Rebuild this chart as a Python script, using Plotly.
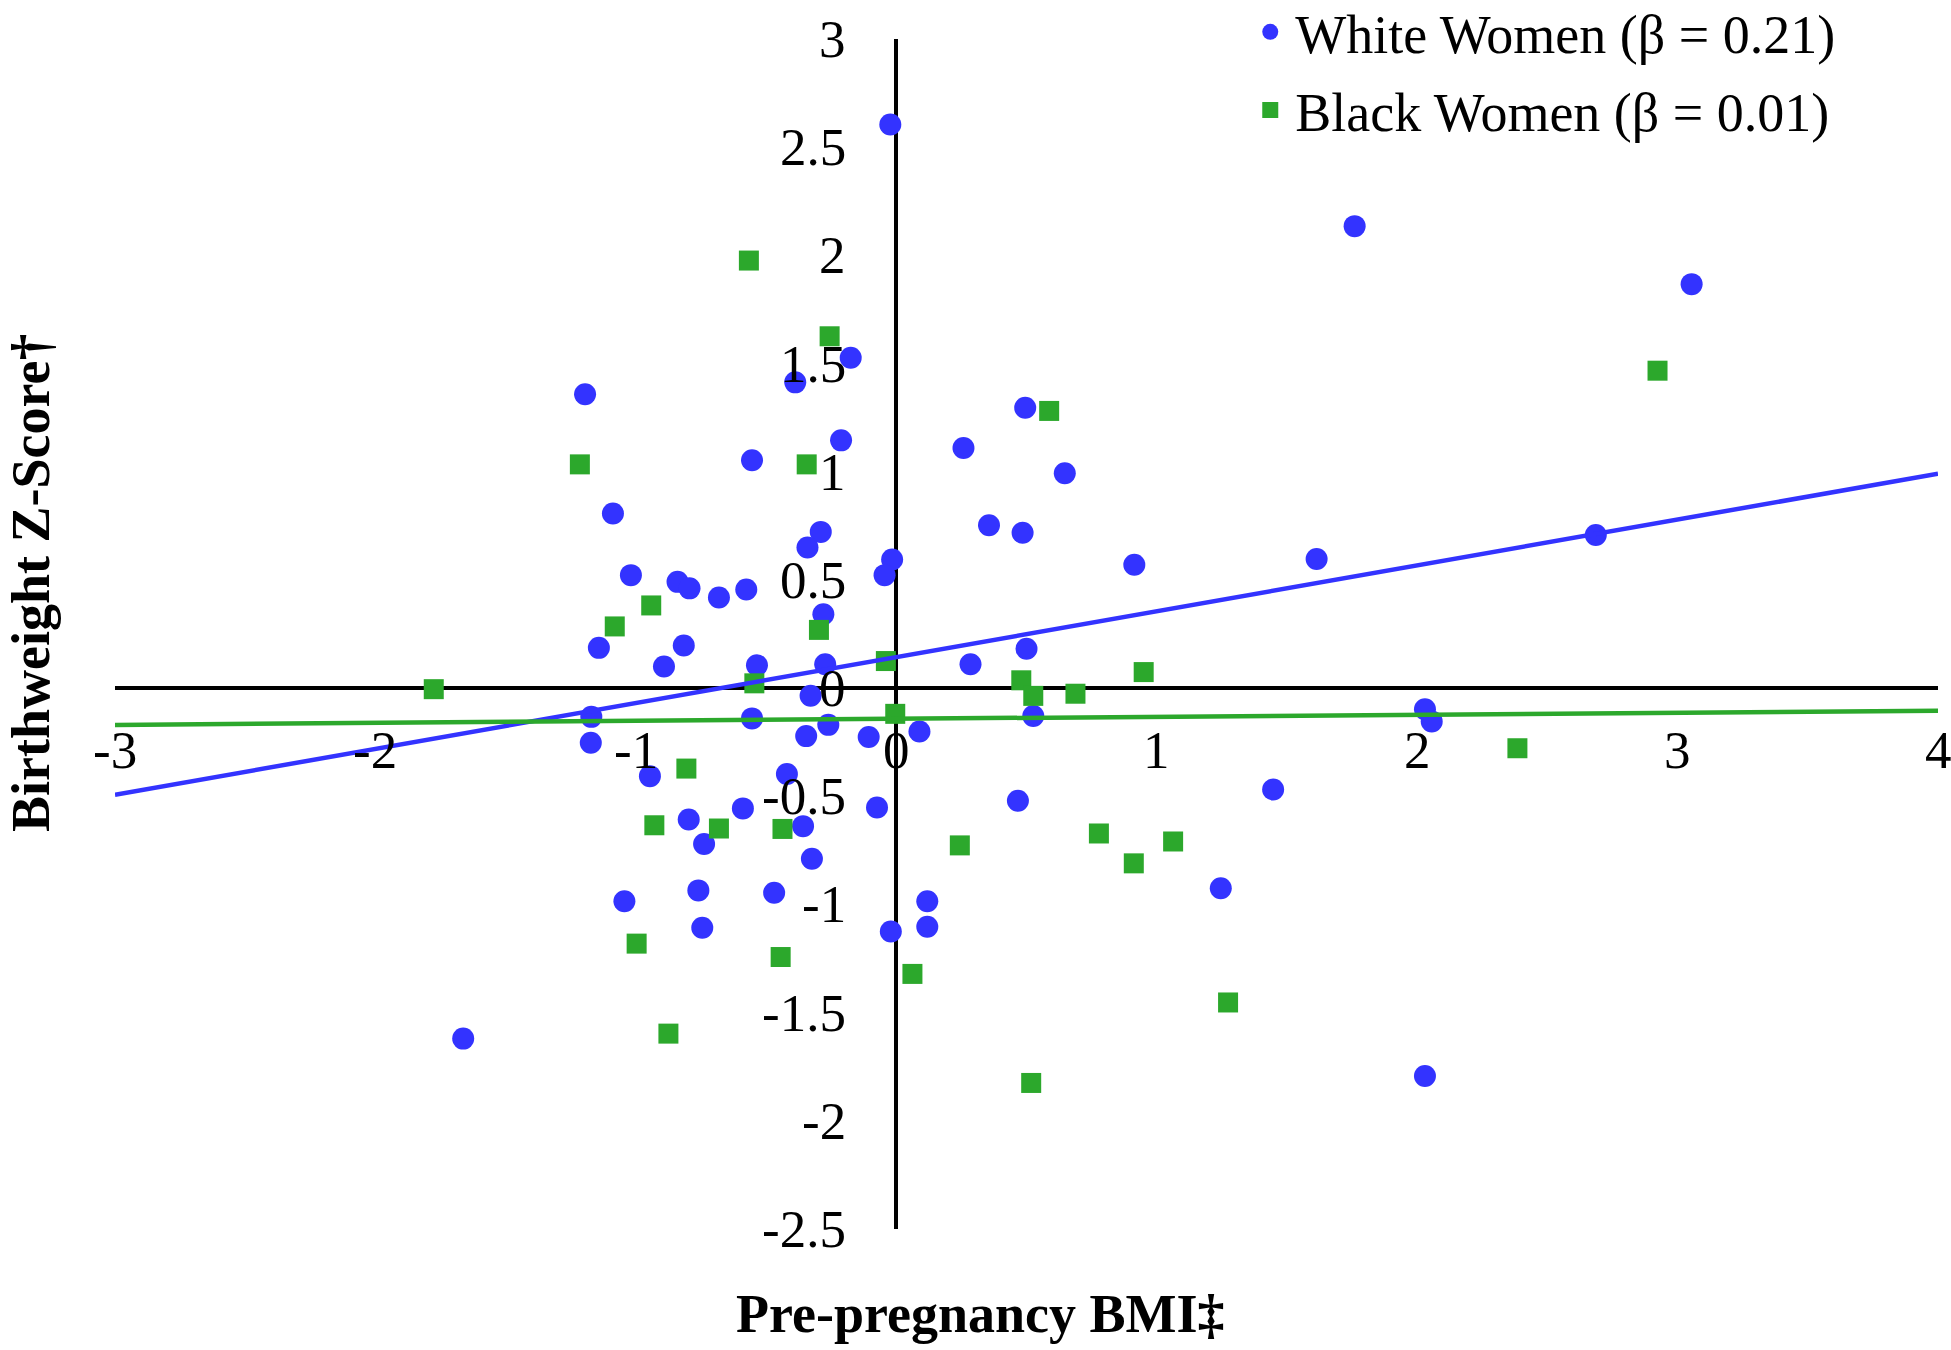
import plotly.graph_objects as go

# ---- data ----
white_x = [-0.023, -1.195, -0.388, -0.175, -0.212, -0.554, 0.258, 0.356, -1.088, -0.290,
           -0.341, -1.019, -0.840, -0.794, -0.681, -0.576, -0.016, -0.045, -0.280, -1.142,
           -0.816, -0.892, -0.535, -0.273, 0.285, -0.329, -1.171, -0.554, -0.261, -0.346,
           -0.106, 0.089, -1.173, -0.946, -0.420, -0.074, -0.589, -0.797, -0.358, -0.738,
           -0.324, -1.044, -0.760, -0.469, 0.119, -0.745, -0.021, 0.119, -1.663, 1.760,
           3.054, 0.495, 0.647, 0.485, 0.914, 1.614, 2.686, 0.500, 0.526, 2.030,
           2.056, 1.447, 0.467, 1.246, 2.030]
white_y = [2.605, 1.358, 1.413, 1.527, 1.145, 1.053, 1.110, 0.753, 0.807, 0.722,
           0.650, 0.522, 0.491, 0.461, 0.419, 0.456, 0.594, 0.522, 0.341, 0.186,
           0.197, 0.100, 0.106, 0.110, 0.110, -0.035, -0.133, -0.140, -0.170, -0.222,
           -0.226, -0.201, -0.253, -0.407, -0.397, -0.552, -0.556, -0.607, -0.638, -0.721,
           -0.789, -0.985, -0.935, -0.946, -0.985, -1.108, -1.125, -1.103, -1.620, 2.135,
           1.867, 1.296, 0.993, 0.718, 0.570, 0.597, 0.708, 0.182, -0.129, -0.098,
           -0.154, -0.469, -0.521, -0.925, -1.793]

black_x = [-0.566, -0.256, -1.215, -0.344, -0.941, -1.081, -0.297, -0.040, -0.545, -1.776,
           -0.004, -0.806, -0.929, -0.681, -0.437, 0.244, -0.997, -0.444, 0.062, -0.875,
           0.587, 2.923, 0.950, 0.480, 0.526, 0.688, 2.385, 0.778, 0.912, 1.063,
           1.274, 0.518]
black_y = [1.976, 1.626, 1.034, 1.034, 0.382, 0.285, 0.269, 0.125, 0.022, -0.005,
           -0.119, -0.372, -0.634, -0.649, -0.651, -0.727, -1.181, -1.243, -1.321, -1.597,
           1.281, 1.467, 0.074, 0.036, -0.036, -0.026, -0.278, -0.672, -0.810, -0.709,
           -1.453, -1.825]

# regression fits (slope, intercept) and x extent of trend lines
white_fit = (0.212, 0.143)
black_fit = (0.0094, -0.142)
fit_x = [-3, 4]

x_ticks = [-3, -2, -1, 0, 1, 2, 3, 4]
y_ticks = [3, 2.5, 2, 1.5, 1, 0.5, 0, -0.5, -1, -1.5, -2, -2.5]
x_tick_labels = ["-3", "-2", "-1", "0", "1", "2", "3", "4"]
y_tick_labels = ["3", "2.5", "2", "1.5", "1", "0.5", "0", "-0.5", "-1", "-1.5", "-2", "-2.5"]

series_names = ["White Women (β = 0.21)", "Black Women (β = 0.01)"]
x_title = "Pre-pregnancy BMI‡"
y_title = "Birthweight Z-Score†"

BLUE = "rgb(51,51,255)"
GREEN = "rgb(44,168,44)"
FONT = "Liberation Serif, Times New Roman, serif"

fig = go.Figure()

fig.add_trace(go.Scatter(
    x=white_x, y=white_y, mode="markers", name=series_names[0],
    marker=dict(symbol="circle", size=22, color=BLUE, line=dict(width=0)),
    legendgroup="w"))
fig.add_trace(go.Scatter(
    x=black_x, y=black_y, mode="markers", name=series_names[1],
    marker=dict(symbol="square", size=20, color=GREEN, line=dict(width=0)),
    legendgroup="b"))

fig.add_trace(go.Scatter(
    x=fit_x, y=[white_fit[0] * v + white_fit[1] for v in fit_x], mode="lines",
    line=dict(color=BLUE, width=4.5), showlegend=False, hoverinfo="skip"))
fig.add_trace(go.Scatter(
    x=fit_x, y=[black_fit[0] * v + black_fit[1] for v in fit_x], mode="lines",
    line=dict(color=GREEN, width=4.5), showlegend=False, hoverinfo="skip"))

annotations = []
for v, t in zip(x_ticks, x_tick_labels):
    annotations.append(dict(x=v, y=0, xref="x", yref="y", text=t, showarrow=False,
                            xanchor="center", yanchor="middle", yshift=-62,
                            font=dict(family=FONT, size=53, color="black")))
for v, t in zip(y_ticks, y_tick_labels):
    annotations.append(dict(x=0, y=v, xref="x", yref="y", text=t, showarrow=False,
                            xanchor="right", yanchor="middle", xshift=-48,
                            font=dict(family=FONT, size=53, color="black")))

annotations.append(dict(x=0.4745, y=-0.0715, xref="paper", yref="paper", text="<b>" + x_title + "</b>",
                        showarrow=False, xanchor="center", yanchor="middle",
                        font=dict(family=FONT, size=54, color="black")))
annotations.append(dict(x=-0.046, y=0.543, xref="paper", yref="paper", text="<b>" + y_title + "</b>",
                        showarrow=False, xanchor="center", yanchor="middle", textangle=-90,
                        font=dict(family=FONT, size=54, color="black")))

fig.update_layout(
    width=1951, height=1350,
    margin=dict(l=115, r=13, t=39, b=121, autoexpand=False),
    paper_bgcolor="white", plot_bgcolor="white",
    font=dict(family=FONT, size=52, color="black"),
    xaxis=dict(range=[-3, 4], showgrid=False, showticklabels=False, ticks="",
               showline=False, zeroline=True, zerolinecolor="black", zerolinewidth=3.5),
    yaxis=dict(range=[-2.5, 3], showgrid=False, showticklabels=False, ticks="",
               showline=False, zeroline=True, zerolinecolor="black", zerolinewidth=3.5),
    legend=dict(x=0.62, y=1.041, xanchor="left", yanchor="top",
                font=dict(family=FONT, size=54, color="black"),
                bgcolor="rgba(0,0,0,0)", tracegroupgap=5, itemsizing="trace",
                itemwidth=40),
    annotations=annotations,
    showlegend=True,
)

fig.write_html("out.html", config={"displayModeBar": False},
               post_script="document.body.style.margin='0';document.body.style.overflow='hidden';")
